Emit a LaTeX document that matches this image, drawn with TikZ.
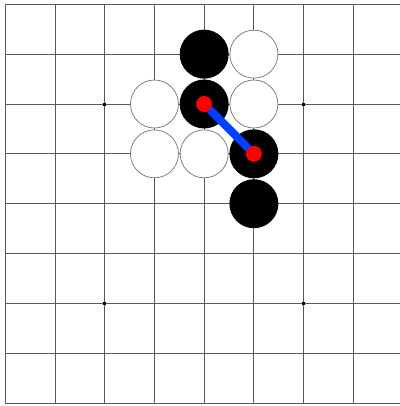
\documentclass[tikz,border=0pt]{standalone}
\definecolor{linkblue}{RGB}{0,64,255}
\begin{document}
\begin{tikzpicture}[x=0.5mm,y=-0.5mm,
  gridline/.style={draw=black!65,line width=0.5mm},
  whitestone/.style={circle,draw=black!55,line width=0.35mm,fill=white,minimum size=48*0.5mm,inner sep=0pt},
  blackstone/.style={circle,fill=black,minimum size=49*0.5mm,inner sep=0pt},
  reddot/.style={circle,fill=red,minimum size=16*0.5mm,inner sep=0pt},
  starpt/.style={fill=black,minimum size=3*0.5mm,inner sep=0pt},
  link/.style={draw=linkblue,line width=8*0.5mm}]
\useasboundingbox (0,0) rectangle (400,406);
\fill[white] (0,0) rectangle (400,406);
\def\gx#1{5.3+49.72*#1}
\def\gy#1{4.3+49.85*#1}
\foreach \i in {0,...,7} \draw[gridline] ({\gx{\i}},{\gy{0}}) -- ({\gx{\i}},{\gy{8}});
\foreach \j in {0,...,8} \draw[gridline] ({\gx{0}},{\gy{\j}}) -- (400,{\gy{\j}});
\foreach \i/\j [count=\k] in {2/2,6/2,2/6,6/6} \node[starpt] (s\k) at ({\gx{\i}},{\gy{\j}}) {};
\foreach \i/\j [count=\k] in {5/1,3/2,5/2,3/3,4/3} \node[whitestone] (w\k) at ({\gx{\i}},{\gy{\j}}) {};
\foreach \i/\j [count=\k] in {4/1,4/2,5/3,5/4} \node[blackstone] (b\k) at ({\gx{\i}},{\gy{\j}}) {};
\draw[link] (b2.center) -- (b3.center);
\node[reddot] (r1) at (b2.center) {};
\node[reddot] (r2) at (b3.center) {};
\end{tikzpicture}
\end{document}
